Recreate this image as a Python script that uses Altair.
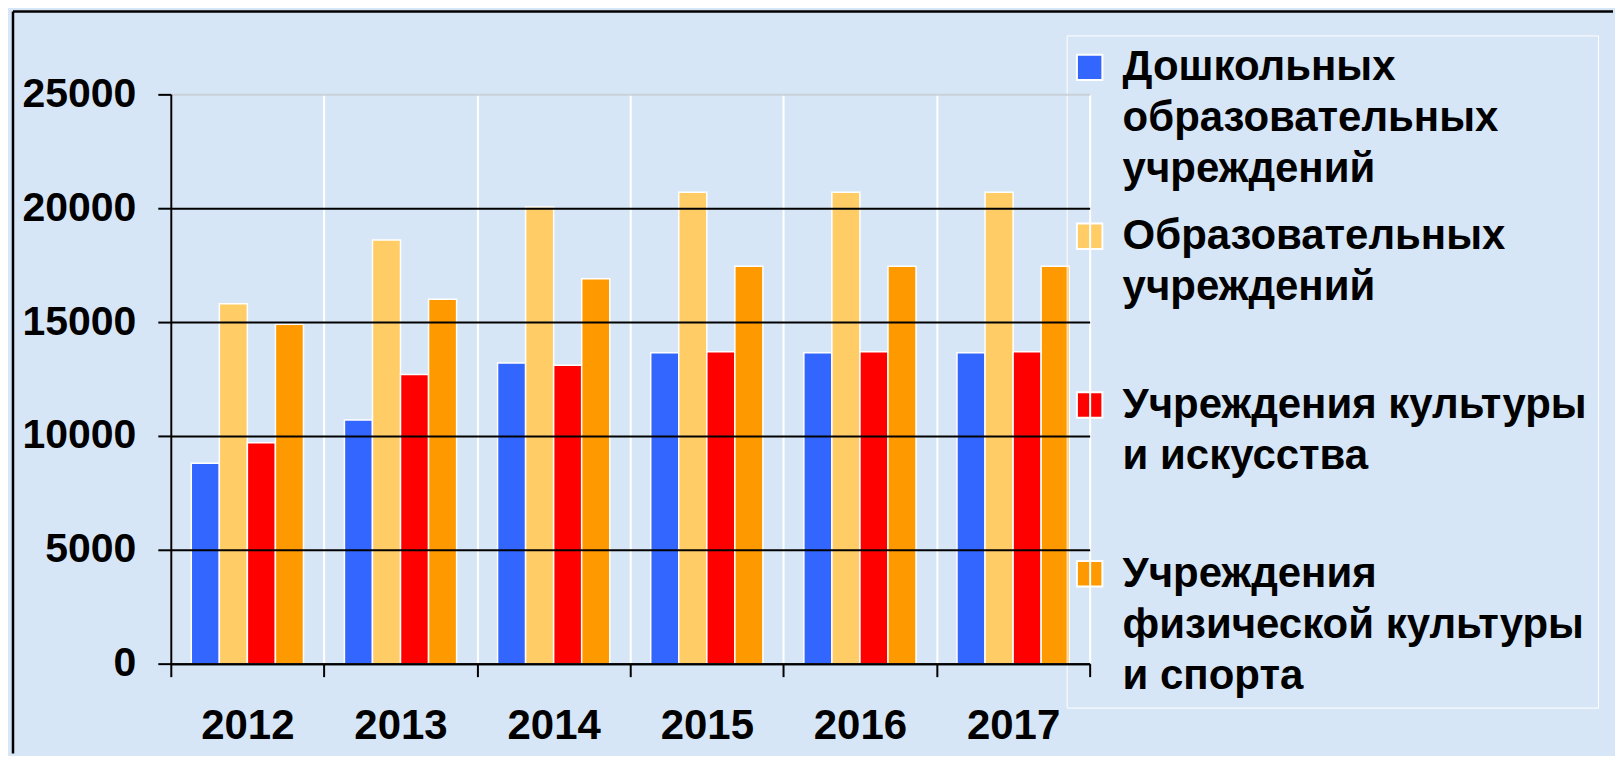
import altair as alt
import pandas as pd

years = ["2012", "2013", "2014", "2015", "2016", "2017"]
series = [
    "Дошкольных|образовательных|учреждений",
    "Образовательных|учреждений",
    "Учреждения культуры|и искусства",
    "Учреждения|физической культуры|и спорта",
]
preschool = [8800, 10700, 13200, 13650, 13650, 13650]
education = [15800, 18600, 20050, 20700, 20700, 20700]
culture = [9700, 12700, 13100, 13700, 13700, 13700]
sport = [14900, 16000, 16900, 17450, 17450, 17450]
colors = ["#3366FF", "#FFCC66", "#FF0000", "#FF9900"]
y_ticks = [0, 5000, 10000, 15000, 20000, 25000]

rows = []
for s, vals in zip(series, [preschool, education, culture, sport]):
    for yr, v in zip(years, vals):
        rows.append({"year": yr, "series": s, "value": v})
df = pd.DataFrame(rows)

FONT = "Liberation Sans"

bars = alt.Chart(df).mark_bar(stroke="white", strokeWidth=1.5).encode(
    x=alt.X(
        "year:N", sort=years,
        scale=alt.Scale(paddingInner=0, paddingOuter=0),
        axis=alt.Axis(
            title=None, labelAngle=0, tickBand="extent",
            labelFont=FONT, labelFontSize=42, labelFontWeight="bold", labelColor="black",
            labelPadding=29, tickSize=13, tickWidth=2, tickColor="black",
            domainColor="black", domainWidth=2,
            grid=True, gridColor="white", gridWidth=2, zindex=1,
        ),
    ),
    xOffset=alt.XOffset("series:N", sort=series,
                        scale=alt.Scale(paddingInner=0, paddingOuter=0.73)),
    y=alt.Y(
        "value:Q",
        scale=alt.Scale(domain=[0, 25000], nice=False),
        axis=alt.Axis(
            title=None, values=y_ticks, format="d",
            labelFont=FONT, labelFontSize=41, labelFontWeight="bold", labelColor="black",
            labelPadding=22, tickSize=13, tickWidth=2, tickColor="black",
            domainColor="black", domainWidth=2,
            grid=True, gridWidth=2,
            gridColor={"condition": {"test": "datum.value == 25000", "value": "#c9d0d8"},
                       "value": "black"},
            zindex=1,
        ),
    ),
    color=alt.Color(
        "series:N", sort=series,
        scale=alt.Scale(domain=series, range=colors),
        legend=alt.Legend(
            title=None, orient="none", legendX=897, legendY=-59, direction="vertical",
            labelExpr="split(datum.label, '|')",
            labelFont=FONT, labelFontSize=42, labelFontWeight="bold", labelColor="black",
            labelLimit=700, labelOffset=12, symbolOffset=-9,
            symbolType="square", symbolSize=650, symbolStrokeColor="white",
            symbolStrokeWidth=2, symbolOpacity=1,
            padding=11, rowPadding=25, gridAlign="all", strokeColor="white",
        ),
    ),
)

frame_df = pd.DataFrame({"k": [0]})
frame_top = alt.Chart(frame_df).mark_rule(color="black", strokeWidth=2.5).encode(
    x=alt.value(-158), x2=alt.value(1444), y=alt.value(-83)
)
frame_left = alt.Chart(frame_df).mark_rule(color="black", strokeWidth=2.5).encode(
    x=alt.value(-158), y=alt.value(-83), y2=alt.value(660)
)

chart = alt.layer(bars, frame_top, frame_left).properties(
    width=920, height=570,
    background="#d6e6f6",
    padding={"left": 3, "top": 1, "right": 0, "bottom": 0},
).configure(
    view=alt.ViewConfig(strokeWidth=0),
    style={"guide-label": {"lineHeight": 51}},
)

chart.save("out.html", embed_options={"renderer": "svg", "actions": False})
